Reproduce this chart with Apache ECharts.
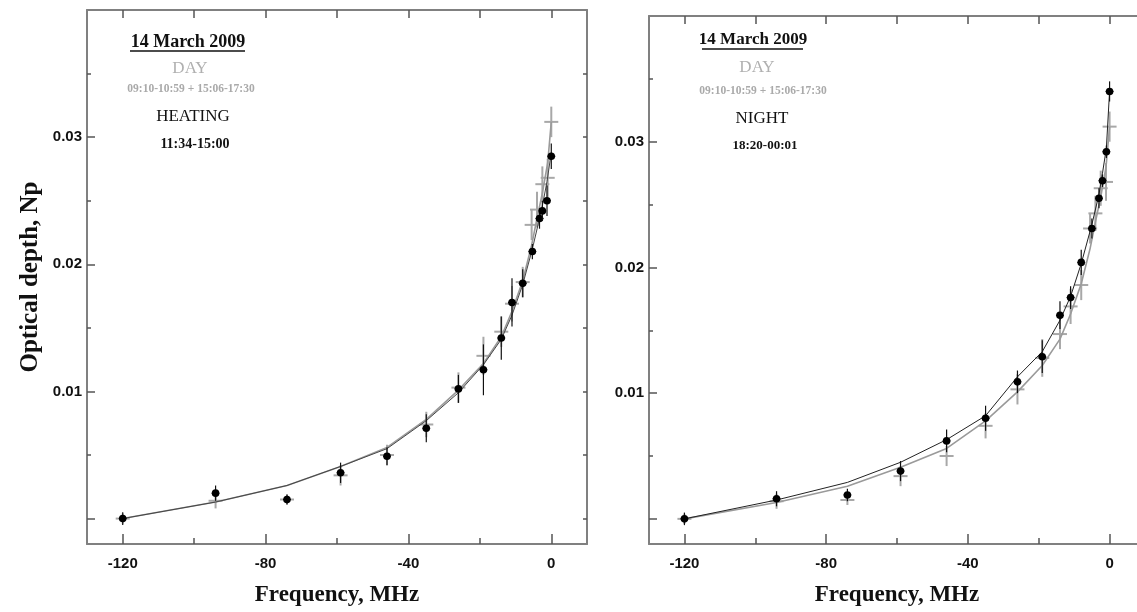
<!DOCTYPE html>
<html><head><meta charset="utf-8">
<script src="https://cdn.jsdelivr.net/npm/echarts@6/dist/echarts.min.js"></script>
<style>html,body{margin:0;padding:0;background:#fff;overflow:hidden}#c{width:1150px;height:612px}</style>
</head><body><div id="c"></div>
<script>
// ---- data ----
const xLabels = [-120, -80, -40, 0];
const xMinorTicks = [-100, -60, -20];
const xTopTicks = [-120, -100, -80, -60, -40, -20, 0];
const yLabels = [0.01, 0.02, 0.03];
const yMajorTicks = [0, 0.01, 0.02, 0.03];
const yMinorTicks = [0.005, 0.015, 0.025, 0.035];
const yAllTicks = [0, 0.005, 0.01, 0.015, 0.02, 0.025, 0.03, 0.035];

// DAY (gray crosses), same in both panels
const dayFreq = [-120, -94, -74, -59, -46, -35, -26, -19, -14, -11, -8, -5.5, -4, -2.5, -1, 0];
const dayVal  = [0.0000, 0.0014, 0.0015, 0.0034, 0.0050, 0.0074, 0.0103, 0.0128, 0.0147, 0.0169, 0.0186, 0.0231, 0.0243, 0.0263, 0.0268, 0.0312];
const dayErr  = [0.0004, 0.0006, 0.0004, 0.0008, 0.0008, 0.0010, 0.0012, 0.0015, 0.0012, 0.0014, 0.0012, 0.0012, 0.0014, 0.0014, 0.0015, 0.0012];
const dayFit  = [0.0000, 0.0013, 0.0026, 0.0041, 0.0056, 0.0078, 0.0101, 0.0122, 0.0143, 0.0163, 0.0187, 0.0215, 0.0236, 0.0256, 0.0280, 0.0312];

// HEATING (left panel, black dots)
const heatFreq = [-120, -94, -74, -59, -46, -35, -26, -19, -14, -11, -8, -5.3, -3.3, -2.5, -1.2, 0];
const heatVal  = [0.0000, 0.0020, 0.0015, 0.0036, 0.0049, 0.0071, 0.0102, 0.0117, 0.0142, 0.0170, 0.0185, 0.0210, 0.0236, 0.0242, 0.0250, 0.0285];
const heatErr  = [0.0005, 0.0006, 0.0004, 0.0008, 0.0007, 0.0011, 0.0011, 0.0020, 0.0017, 0.0019, 0.0011, 0.0006, 0.0008, 0.0008, 0.0012, 0.0010];
const heatFit  = [0.0000, 0.0013, 0.0026, 0.0041, 0.0055, 0.0077, 0.0099, 0.0121, 0.0141, 0.0160, 0.0184, 0.0212, 0.0236, 0.0246, 0.0265, 0.0288];

// NIGHT (right panel, black dots)
const nightFreq = [-120, -94, -74, -59, -46, -35, -26, -19, -14, -11, -8, -5, -3, -2, -0.9, 0];
const nightVal  = [0.0000, 0.0016, 0.0019, 0.0038, 0.0062, 0.0080, 0.0109, 0.0129, 0.0162, 0.0176, 0.0204, 0.0231, 0.0255, 0.0269, 0.0292, 0.0340];
const nightErr  = [0.0005, 0.0006, 0.0005, 0.0008, 0.0009, 0.0010, 0.0009, 0.0013, 0.0011, 0.0009, 0.0010, 0.0008, 0.0008, 0.0005, 0.0005, 0.0008];
const nightFit  = [0.0000, 0.0015, 0.0029, 0.0045, 0.0063, 0.0082, 0.0113, 0.0133, 0.0158, 0.0177, 0.0203, 0.0234, 0.0258, 0.0275, 0.0295, 0.0340];

// ---- chart ----
const chart = echarts.init(document.getElementById('c'));
const AX = '#808080';
const grids = [
  {left: 87, top: 10, width: 500, height: 544},
  {left: 649, top: 16, width: 496, height: 537}
];
const X_MIN = -130, X_MAX = 10, Y_MIN = -0.002, Y_MAX = 0.04;

const xAxes = [], yAxes = [];
grids.forEach((g, gi) => {
  xAxes.push({ gridIndex: gi, type: 'value', position: 'bottom', min: X_MIN, max: X_MAX,
    axisLine: {show: true, onZero: false, lineStyle: {color: AX, width: 2}},
    axisTick: {show: true, inside: true, length: 10, customValues: xLabels, lineStyle: {color: '#555', width: 1.5}},
    axisLabel: {show: true, customValues: xLabels, margin: 12, fontFamily: 'Liberation Sans', fontWeight: 'bold', fontSize: 15, color: '#111'},
    splitLine: {show: false},
    name: 'Frequency, MHz', nameLocation: 'middle', nameGap: 40,
    nameTextStyle: {fontFamily: 'Liberation Serif', fontWeight: 'bold', fontSize: 23, color: '#111'}
  });
  xAxes.push({ gridIndex: gi, type: 'value', position: 'bottom', min: X_MIN, max: X_MAX,
    axisLine: {show: false, onZero: false},
    axisTick: {show: true, inside: true, length: 6, customValues: xMinorTicks, lineStyle: {color: '#555', width: 1.5}},
    axisLabel: {show: false}, splitLine: {show: false}
  });
  xAxes.push({ gridIndex: gi, type: 'value', position: 'top', min: X_MIN, max: X_MAX,
    axisLine: {show: true, onZero: false, lineStyle: {color: AX, width: 2}},
    axisTick: {show: true, inside: true, length: 8, customValues: xTopTicks, lineStyle: {color: '#555', width: 1.5}},
    axisLabel: {show: false}, splitLine: {show: false}
  });
  yAxes.push({ gridIndex: gi, type: 'value', position: 'left', min: Y_MIN, max: Y_MAX,
    axisLine: {show: true, onZero: false, lineStyle: {color: AX, width: 2}},
    axisTick: {show: true, inside: true, length: 8, customValues: yMajorTicks, lineStyle: {color: '#555', width: 1.5}},
    axisLabel: {show: true, customValues: yLabels, margin: 5, fontFamily: 'Liberation Sans', fontWeight: 'bold', fontSize: 15, color: '#111',
      formatter: v => v.toFixed(2)},
    splitLine: {show: false},
    name: gi === 0 ? 'Optical depth, Np' : '', nameLocation: 'middle', nameGap: 44, nameRotate: 90,
    nameTextStyle: {fontFamily: 'Liberation Serif', fontWeight: 'bold', fontSize: 25, color: '#111'}
  });
  yAxes.push({ gridIndex: gi, type: 'value', position: 'left', min: Y_MIN, max: Y_MAX,
    axisLine: {show: false, onZero: false},
    axisTick: {show: true, inside: true, length: 4, customValues: yMinorTicks, lineStyle: {color: '#555', width: 1.5}},
    axisLabel: {show: false}, splitLine: {show: false}
  });
  yAxes.push({ gridIndex: gi, type: 'value', position: 'right', min: Y_MIN, max: Y_MAX,
    axisLine: {show: true, onZero: false, lineStyle: {color: AX, width: 2}},
    axisTick: {show: true, inside: true, length: 4, customValues: yAllTicks, lineStyle: {color: '#555', width: 1.5}},
    axisLabel: {show: false}, splitLine: {show: false}
  });
});

function zip3(f, v, e) { return f.map((x, i) => [x, v[i], e[i]]); }
function zip2(f, v) { return f.map((x, i) => [x, v[i]]); }

function crossSeries(gi, data) {
  return { type: 'custom', xAxisIndex: gi * 3, yAxisIndex: gi * 3, z: 2, silent: true,
    data: data,
    renderItem: function (params, api) {
      const x = api.value(0), y = api.value(1), e = api.value(2);
      const c = api.coord([x, y]), hi = api.coord([x, y + e]), lo = api.coord([x, y - e]);
      const st = {stroke: '#a8a8a8', lineWidth: 2};
      return {type: 'group', children: [
        {type: 'line', shape: {x1: c[0], y1: hi[1], x2: c[0], y2: lo[1]}, style: st},
        {type: 'line', shape: {x1: c[0] - 7, y1: c[1], x2: c[0] + 7, y2: c[1]}, style: st}
      ]};
    }
  };
}
function dotSeries(gi, data) {
  return { type: 'custom', xAxisIndex: gi * 3, yAxisIndex: gi * 3, z: 4, silent: true,
    data: data,
    renderItem: function (params, api) {
      const x = api.value(0), y = api.value(1), e = api.value(2);
      const c = api.coord([x, y]), hi = api.coord([x, y + e]), lo = api.coord([x, y - e]);
      return {type: 'group', children: [
        {type: 'line', shape: {x1: c[0], y1: hi[1], x2: c[0], y2: lo[1]}, style: {stroke: '#111', lineWidth: 1.2}},
        {type: 'line', shape: {x1: c[0] - 4, y1: c[1], x2: c[0] + 4, y2: c[1]}, style: {stroke: '#111', lineWidth: 1}},
        {type: 'circle', shape: {cx: c[0], cy: c[1], r: 3.8}, style: {fill: '#000'}}
      ]};
    }
  };
}
function fitSeries(gi, data, color, w, z) {
  return { type: 'line', xAxisIndex: gi * 3, yAxisIndex: gi * 3, data: data, showSymbol: false, silent: true,
    z: z, lineStyle: {color: color, width: w}, animation: false };
}

const series = [
  crossSeries(0, zip3(dayFreq, dayVal, dayErr)),
  fitSeries(0, zip2(dayFreq, dayFit), '#9a9a9a', 1.6, 3),
  fitSeries(0, zip2(heatFreq, heatFit), '#444', 1, 3),
  dotSeries(0, zip3(heatFreq, heatVal, heatErr)),
  crossSeries(1, zip3(dayFreq, dayVal, dayErr)),
  fitSeries(1, zip2(dayFreq, dayFit), '#9a9a9a', 1.6, 3),
  fitSeries(1, zip2(nightFreq, nightFit), '#222', 1, 3),
  dotSeries(1, zip3(nightFreq, nightVal, nightErr))
];

function textAt(cx, cy, s, size, weight, color) {
  return {type: 'text', x: cx, y: cy, style: {text: s, align: 'center', verticalAlign: 'middle',
    font: weight + ' ' + size + 'px "Liberation Serif"', fill: color}, z: 10};
}
const graphic = [
  textAt(188, 42, '14 March 2009', 18, 'bold', '#111'),
  {type: 'line', shape: {x1: 130, y1: 51, x2: 245, y2: 51}, style: {stroke: '#111', lineWidth: 1.5}, z: 10},
  textAt(190, 69, 'DAY', 17, 'normal', '#b0b0b0'),
  textAt(191, 89, '09:10-10:59 + 15:06-17:30', 11.5, 'bold', '#aaa'),
  textAt(193, 117, 'HEATING', 17, 'normal', '#111'),
  textAt(195, 144, '11:34-15:00', 14, 'bold', '#111'),

  textAt(753, 40, '14 March 2009', 17, 'bold', '#111'),
  {type: 'line', shape: {x1: 702, y1: 49, x2: 803, y2: 49}, style: {stroke: '#111', lineWidth: 1.5}, z: 10},
  textAt(757, 68, 'DAY', 17, 'normal', '#b0b0b0'),
  textAt(763, 91, '09:10-10:59 + 15:06-17:30', 11.5, 'bold', '#aaa'),
  textAt(762, 119, 'NIGHT', 17, 'normal', '#111'),
  textAt(765, 146, '18:20-00:01', 13, 'bold', '#111')
];

chart.setOption({
  animation: false,
  backgroundColor: '#fff',
  grid: grids,
  xAxis: xAxes,
  yAxis: yAxes,
  series: series,
  graphic: graphic
});
</script>
</body></html>
